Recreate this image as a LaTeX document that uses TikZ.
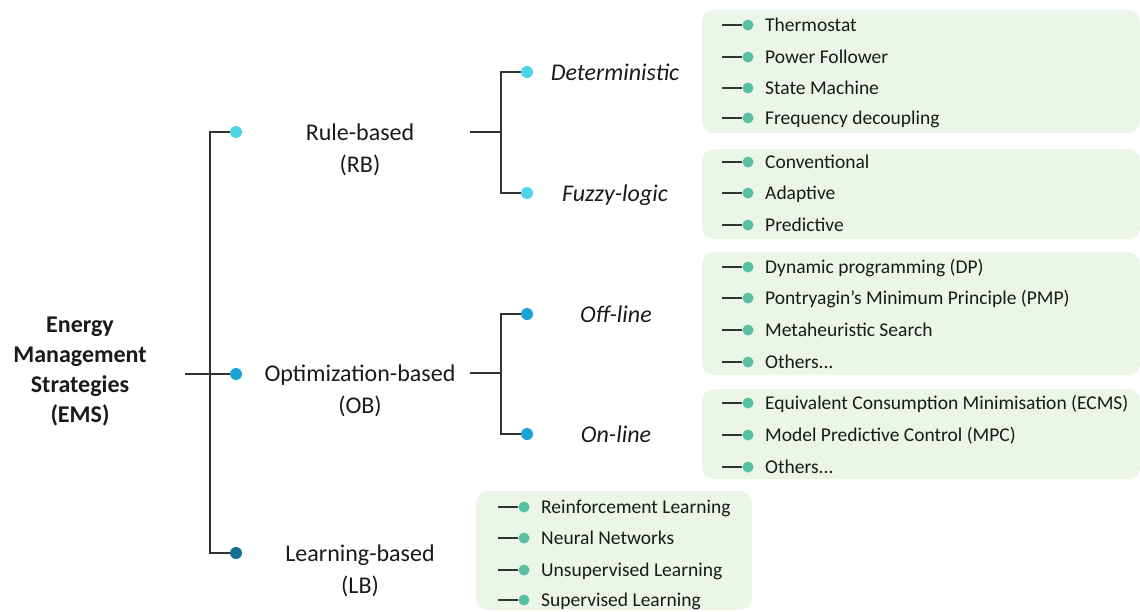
\documentclass[tikz,border=0pt]{standalone}
\usepackage{fontspec}
\setmainfont{Carlito}
\definecolor{linec}{HTML}{333333}
\definecolor{txt}{HTML}{1A1A1A}
\definecolor{rbc}{HTML}{4DD4E8}
\definecolor{obc}{HTML}{1BA1D2}
\definecolor{lbc}{HTML}{12708F}
\definecolor{itemc}{HTML}{56C0A0}
\definecolor{boxc}{HTML}{EBF5E8}
\newcommand{\twolines}[2]{\begin{tabular}[t]{@{}c@{}}#1\\#2\end{tabular}}
\newcommand{\etcdots}{...}
\newcommand{\straightquote}{\symbol{39}}
\begin{document}
\begin{tikzpicture}[x=1pt,y=-1pt,
  link/.style={draw=linec, line width=1.3pt},
  leaf/.style={draw=linec, line width=1.1pt},
  bigdot/.style={circle, inner sep=0pt, minimum size=12pt},
  smalldot/.style={circle, fill=itemc, inner sep=0pt, minimum size=11pt},
  rootlabel/.style={anchor=base, inner sep=0pt, text=txt,
    font=\bfseries\fontsize{24}{30.2}\selectfont},
  mainlabel/.style={anchor=base, inner sep=0pt, text=txt,
    font=\fontsize{24}{32}\selectfont},
  sublabel/.style={anchor=base, inner sep=0pt, text=txt,
    font=\itshape\fontsize{24}{32}\selectfont},
  itemlabel/.style={anchor=base west, inner sep=0pt, text=txt,
    font=\fontsize{19.5}{24}\selectfont},
  group/.style={fill=boxc, rounded corners=12pt}
]
\useasboundingbox (0,0) rectangle (1140,611);

% green groups of leaf methods
\fill[group] (702,10) rectangle (1140,133);
\fill[group] (702,149) rectangle (1140,239);
\fill[group] (702,252) rectangle (1140,375);
\fill[group] (702,389) rectangle (1140,479);
\fill[group] (476,491) rectangle (752,610);

% root
\node[rootlabel] (ems) at (80,332)
  {\begin{tabular}[t]{@{}c@{}}Energy\\Management\\Strategies\\(EMS)\end{tabular}};
\coordinate (emsout) at (185,374);
\coordinate (trunk) at (210,374);

% first level
\node[bigdot, fill=rbc] (rbdot) at (236,132) {};
\node[bigdot, fill=obc] (obdot) at (236,374) {};
\node[bigdot, fill=lbc] (lbdot) at (236,553) {};
\draw[link] (emsout) -- (obdot.west);
\draw[link] (rbdot.west) -| (trunk) |- (lbdot.west);

\node[mainlabel] (rb) at (360,140.5) {\twolines{Rule-based}{(RB)}};
\node[mainlabel] (ob) at (360,381.5) {\twolines{Optimization-based}{(OB)}};
\node[mainlabel] (lb) at (360,561.5) {\twolines{Learning-based}{(LB)}};

% second level: rule-based
\coordinate (rbout) at (470,132);
\coordinate (rbj) at (501,132);
\node[bigdot, fill=rbc] (detdot) at (527,72) {};
\node[bigdot, fill=rbc] (fuzdot) at (527,193) {};
\draw[link] (rbout) -- (rbj);
\draw[link] (detdot.west) -| (rbj) |- (fuzdot.west);
\node[sublabel] (det) at (615,80) {Deterministic};
\node[sublabel] (fuz) at (615,201) {Fuzzy-logic};

% second level: optimization-based
\coordinate (obout) at (470,373);
\coordinate (obj) at (501,373);
\node[bigdot, fill=obc] (offdot) at (527,314) {};
\node[bigdot, fill=obc] (ondot) at (527,434) {};
\draw[link] (obout) -- (obj);
\draw[link] (offdot.west) -| (obj) |- (ondot.west);
\node[sublabel] (off) at (616,322) {Off-line};
\node[sublabel] (on) at (616,442) {On-line};

% leaf items
\foreach \y/\name/\t in {
  25/th/Thermostat, 57/pf/Power Follower, 88/sm/State Machine, 118/fd/Frequency decoupling,
  162/cv/Conventional, 193/ad/Adaptive, 225/pr/Predictive,
  267/dp/Dynamic programming (DP), 298/pmp/Pontryagin\straightquote s Minimum Principle (PMP),
  330/ms/Metaheuristic Search, 362/oth1/Others\etcdots,
  403/ecms/Equivalent Consumption Minimisation (ECMS), 435/mpc/Model Predictive Control (MPC),
  467/oth2/Others\etcdots}{
  \coordinate (\name-l) at (722,\y);
  \node[smalldot] (\name-d) at (748,\y) {};
  \draw[leaf] (\name-l) -- (\name-d);
  \node[itemlabel] (\name) at (765,\y+6.3) {\t};
}
\foreach \y/\name/\t in {
  507/rl/Reinforcement Learning, 538/nn/Neural Networks,
  570/ul/Unsupervised Learning, 600/sl/Supervised Learning}{
  \coordinate (\name-l) at (498,\y);
  \node[smalldot] (\name-d) at (524,\y) {};
  \draw[leaf] (\name-l) -- (\name-d);
  \node[itemlabel] (\name) at (541,\y+6.3) {\t};
}
\end{tikzpicture}
\end{document}
